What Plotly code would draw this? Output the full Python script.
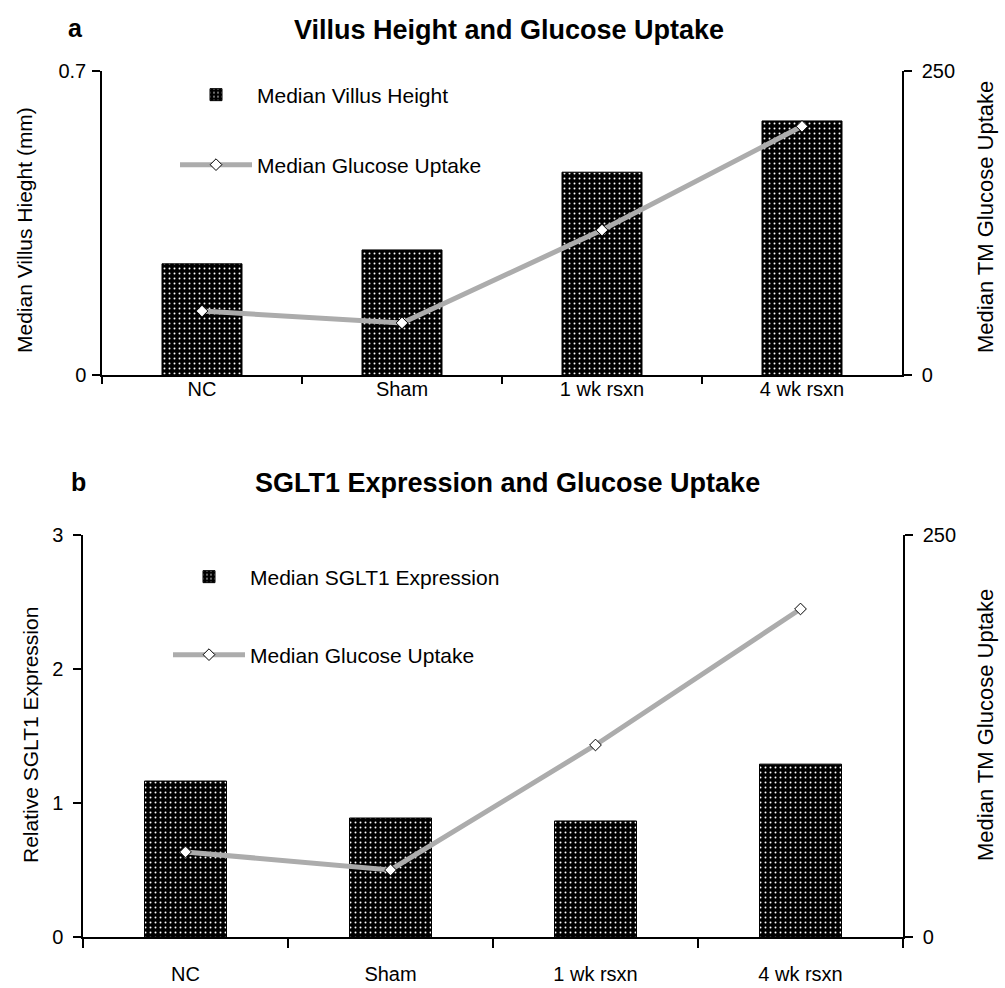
import plotly.graph_objects as go

# ---------------- data ----------------
categories = ["NC", "Sham", "1 wk rsxn", "4 wk rsxn"]
villus_height = [0.256, 0.288, 0.467, 0.585]          # mm, panel a bars
glucose_uptake_a = [52.6, 42.8, 119.2, 204.5]         # panel a line (right axis)
sglt1_expression = [1.164, 0.888, 0.866, 1.29]        # panel b bars
glucose_uptake_b = [52.9, 41.7, 119.4, 204.0]         # panel b line (right axis)

left_ticks_a = [0, 0.7]
left_ticktext_a = ["0", "0.7"]
left_ticks_b = [0, 1, 2, 3]
right_ticks = [0, 250]

# ---------------- layout helpers ----------------
W, H = 1005, 988
FONT = "Liberation Sans, Arial, sans-serif"


def px_x(x):
    return x / W


def px_y(y):
    return 1 - y / H


bar_marker = dict(
    color="black",
    line=dict(color="black", width=1),
    pattern=dict(shape=".", fgcolor="white", bgcolor="black", size=5, solidity=0.12, fgopacity=1),
)
line_style = dict(color="#acacac", width=5)
pt_marker = dict(symbol="diamond", size=9, color="white", line=dict(color="black", width=1))

fig = go.Figure()
fig.add_trace(go.Bar(x=categories, y=villus_height, name="Median Villus Height",
                     marker=bar_marker, xaxis="x", yaxis="y", legend="legend"))
fig.add_trace(go.Scatter(x=categories, y=glucose_uptake_a, name="Median Glucose Uptake",
                         mode="lines+markers", line=line_style, marker=pt_marker,
                         xaxis="x", yaxis="y2", legend="legend2"))
fig.add_trace(go.Bar(x=categories, y=sglt1_expression, name="Median SGLT1 Expression",
                     marker=bar_marker, xaxis="x2", yaxis="y3", legend="legend3"))
fig.add_trace(go.Scatter(x=categories, y=glucose_uptake_b, name="Median Glucose Uptake",
                         mode="lines+markers", line=line_style, marker=pt_marker,
                         xaxis="x2", yaxis="y4", legend="legend4"))

axis_common = dict(showline=True, linecolor="black", linewidth=1.5, ticks="outside",
                   tickcolor="black", tickwidth=1.5, showgrid=False, zeroline=False,
                   automargin=False,
                   tickfont=dict(family=FONT, size=20, color="black"))

xa = dict(axis_common, type="category", range=[-0.5, 3.5], tickson="boundaries",
          categoryorder="array", categoryarray=categories)

legend_common = dict(bgcolor="rgba(0,0,0,0)", font=dict(family=FONT, size=21, color="black"),
                     xanchor="left", yanchor="middle", itemwidth=72, itemclick=False)

fig.update_layout(
    width=W, height=H,
    margin=dict(l=0, r=0, t=0, b=0, autoexpand=False),
    paper_bgcolor="white", plot_bgcolor="white",
    bargap=0.6,
    font=dict(family=FONT, size=20, color="black"),
    xaxis=dict(xa, domain=[px_x(102), px_x(902)], anchor="y", ticklen=7, ticklabelstandoff=-5),
    yaxis=dict(axis_common, domain=[px_y(375), px_y(71)], anchor="x", range=[0, 0.7],
               tickvals=left_ticks_a, ticktext=left_ticktext_a, ticklen=8, ticklabelstandoff=2),
    yaxis2=dict(axis_common, overlaying="y", side="right", anchor="x", range=[0, 250],
                tickvals=right_ticks, ticklen=8, ticklabelstandoff=6),
    xaxis2=dict(xa, domain=[px_x(83), px_x(903)], anchor="y3", ticklen=9, ticklabelstandoff=18),
    yaxis3=dict(axis_common, domain=[px_y(937), px_y(535)], anchor="x2", range=[0, 3],
                tickvals=left_ticks_b, ticklen=8, ticklabelstandoff=6),
    yaxis4=dict(axis_common, overlaying="y3", side="right", anchor="x2", range=[0, 250],
                tickvals=right_ticks, ticklen=8, ticklabelstandoff=6),
    legend=dict(legend_common, x=px_x(175), y=px_y(95)),
    legend2=dict(legend_common, x=px_x(175), y=px_y(165)),
    legend3=dict(legend_common, x=px_x(168), y=px_y(577)),
    legend4=dict(legend_common, x=px_x(168), y=px_y(655)),
    showlegend=True,
)

annos = [
    dict(text="<b>a</b>", x=px_x(75), y=px_y(28), font=dict(size=25)),
    dict(text="<b>Villus Height and Glucose Uptake</b>", x=px_x(509), y=px_y(30), font=dict(size=27)),
    dict(text="<b>b</b>", x=px_x(78), y=px_y(482), font=dict(size=25)),
    dict(text="<b>SGLT1 Expression and Glucose Uptake</b>", x=px_x(508), y=px_y(483), font=dict(size=27)),
    dict(text="Median Villus Hieght (mm)", x=px_x(24), y=px_y(230), textangle=-90, font=dict(size=21)),
    dict(text="Median TM Glucose Uptake", x=px_x(985), y=px_y(217), textangle=-90, font=dict(size=22)),
    dict(text="Relative SGLT1 Expression", x=px_x(30), y=px_y(735), textangle=-90, font=dict(size=21)),
    dict(text="Median TM Glucose Uptake", x=px_x(985), y=px_y(725), textangle=-90, font=dict(size=22)),
]
for a in annos:
    font = dict(family=FONT, size=20, color="black")
    font.update(a.pop("font", {}))
    fig.add_annotation(xref="paper", yref="paper", showarrow=False,
                       xanchor="center", yanchor="middle", font=font, **a)

fig.write_html("out.html")
